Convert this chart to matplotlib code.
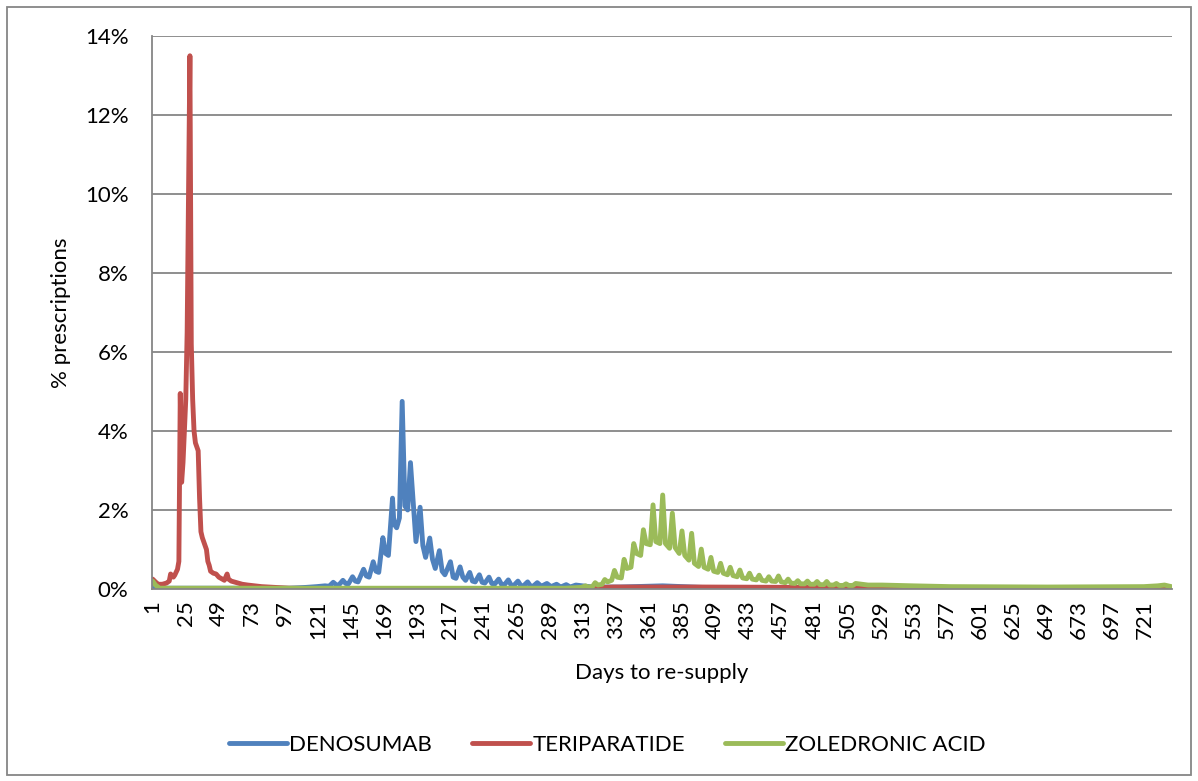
import matplotlib.pyplot as plt
from matplotlib.patches import Rectangle

plt.rcParams['font.family'] = ['Lato', 'DejaVu Sans']

# Days to re-supply (category axis) and tick labels
n_days = 740
tick_days = list(range(1, 722, 24))

# (day, % prescriptions)
teriparatide = [
    (1, 0.25), (3, 0.18), (5, 0.12), (8, 0.12), (11, 0.15), (13, 0.2), (14, 0.38),
    (16, 0.3), (17, 0.35), (19, 0.5), (20, 0.7), (21, 4.95), (22, 2.7), (23, 3.2),
    (24, 4.0), (25, 4.8), (26, 6.5), (27, 10.0), (28, 13.5), (29, 6.2), (30, 4.8),
    (31, 4.0), (32, 3.7), (33, 3.6), (34, 3.5), (35, 2.3), (36, 1.45), (37, 1.3),
    (38, 1.2), (39, 1.1), (40, 1.0), (41, 0.7), (42, 0.6), (43, 0.45), (45, 0.4),
    (47, 0.38), (49, 0.3), (51, 0.26), (53, 0.22), (55, 0.38), (56, 0.25), (58, 0.2),
    (62, 0.16), (66, 0.12), (70, 0.1), (75, 0.08), (80, 0.06), (90, 0.04), (100, 0.02),
    (120, 0.01), (300, 0.01), (320, 0.03), (335, 0.05), (400, 0.05), (480, 0.04),
    (520, 0.03), (600, 0.02), (740, 0.02),
]

denosumab = [
    (1, 0.06), (4, 0.02), (100, 0.02), (112, 0.04), (120, 0.06), (126, 0.08), (129, 0.07),
    (132, 0.17), (134, 0.11), (136, 0.1), (139, 0.22), (141, 0.14), (143, 0.13),
    (146, 0.31), (148, 0.2), (150, 0.18), (154, 0.5), (156, 0.33), (158, 0.3),
    (161, 0.69), (163, 0.45), (165, 0.42), (168, 1.3), (170, 0.9), (172, 0.85),
    (175, 2.3), (176, 1.65), (178, 1.55), (180, 1.8), (182, 4.75), (184, 2.1),
    (186, 2.0), (188, 3.2), (190, 2.2), (192, 1.2), (195, 2.07), (197, 1.1), (199, 0.8),
    (202, 1.29), (204, 0.75), (206, 0.52), (209, 0.97), (211, 0.45), (213, 0.36),
    (217, 0.69), (219, 0.3), (221, 0.27), (224, 0.56), (226, 0.3), (228, 0.22),
    (231, 0.42), (233, 0.2), (235, 0.18), (238, 0.36), (240, 0.17), (242, 0.15),
    (245, 0.3), (247, 0.14), (249, 0.12), (252, 0.25), (254, 0.12), (256, 0.1),
    (259, 0.23), (261, 0.1), (263, 0.09), (266, 0.2), (268, 0.09), (270, 0.08),
    (273, 0.18), (275, 0.08), (277, 0.07), (280, 0.16), (283, 0.07), (287, 0.14),
    (290, 0.06), (294, 0.12), (297, 0.05), (301, 0.11), (304, 0.05), (308, 0.1),
    (320, 0.05), (340, 0.05), (371, 0.08), (400, 0.04), (450, 0.03), (740, 0.02),
]

zoledronic_acid = [
    (1, 0.2), (3, 0.1), (6, 0.02), (300, 0.02), (312, 0.04), (315, 0.08), (317, 0.05),
    (320, 0.06), (322, 0.16), (324, 0.1), (327, 0.12), (329, 0.24), (331, 0.18),
    (334, 0.22), (336, 0.47), (338, 0.3), (341, 0.28), (343, 0.75), (345, 0.52),
    (348, 0.55), (350, 1.15), (352, 0.9), (355, 0.85), (357, 1.5), (359, 1.15),
    (362, 1.12), (364, 2.13), (366, 1.2), (369, 1.15), (371, 2.38), (373, 1.15),
    (376, 1.03), (378, 1.92), (380, 1.05), (383, 0.9), (385, 1.47), (387, 0.85),
    (390, 0.73), (392, 1.41), (394, 0.65), (397, 0.57), (399, 1.01), (401, 0.55),
    (404, 0.5), (406, 0.8), (408, 0.45), (411, 0.42), (413, 0.65), (415, 0.4),
    (418, 0.36), (420, 0.55), (422, 0.34), (425, 0.31), (427, 0.48), (429, 0.28),
    (432, 0.26), (434, 0.4), (436, 0.25), (439, 0.23), (441, 0.35), (443, 0.22),
    (446, 0.2), (448, 0.31), (450, 0.2), (453, 0.19), (455, 0.33), (457, 0.18),
    (460, 0.16), (462, 0.25), (464, 0.15), (467, 0.14), (469, 0.21), (471, 0.13),
    (474, 0.13), (476, 0.2), (478, 0.12), (481, 0.12), (483, 0.19), (485, 0.11),
    (488, 0.11), (490, 0.19), (492, 0.1), (495, 0.1), (497, 0.14), (499, 0.09),
    (502, 0.09), (504, 0.13), (506, 0.09), (509, 0.09), (511, 0.14), (520, 0.1),
    (530, 0.1), (553, 0.08), (580, 0.06), (650, 0.05), (720, 0.06), (730, 0.08),
    (735, 0.1), (740, 0.06),
]

series = [
    ('DENOSUMAB', denosumab, '#4F81BD'),
    ('TERIPARATIDE', teriparatide, '#C0504D'),
    ('ZOLEDRONIC ACID', zoledronic_acid, '#9BBB59'),
]

fig = plt.figure(figsize=(11.98, 7.81), dpi=100)
# outer chart border
fig.patches.append(Rectangle((7 / 1198, 6 / 781), 1184 / 1198, 768 / 781,
                             transform=fig.transFigure, fill=False,
                             edgecolor='#868686', lw=1.3))

ax = fig.add_axes([152 / 1198, 1 - 589 / 781, 1020 / 1198, 553 / 781])

for name, pts, color in series:
    days = [p[0] for p in pts]
    vals = [p[1] for p in pts]
    ax.plot(days, vals, color=color, lw=3.5, label=name,
            solid_joinstyle='round', solid_capstyle='round')

ax.set_xlim(0.5, n_days + 0.5)
ax.set_ylim(0, 14)
ax.set_yticks(range(0, 15, 2))
ax.set_yticklabels([f'{v}%' for v in range(0, 15, 2)], fontsize=16)
ax.set_xticks(tick_days)
ax.set_xticklabels([str(d) for d in tick_days], rotation=90, fontsize=16)
ax.tick_params(axis='y', length=0, pad=17)
ax.tick_params(axis='x', length=0, pad=8)

ax.grid(axis='y', color='#868686', lw=1.3)
ax.set_axisbelow(True)
for s in ['top', 'right']:
    ax.spines[s].set_visible(False)
ax.spines['left'].set_color('#868686')
ax.spines['left'].set_linewidth(1.3)
ax.spines['bottom'].set_color('#868686')
ax.spines['bottom'].set_linewidth(1.3)

ax.set_ylabel('% prescriptions', fontsize=16, labelpad=10)
ax.set_xlabel('Days to re-supply', fontsize=16, labelpad=17)

fig.legend(loc='center', bbox_to_anchor=(0.507, 1 - 745 / 781), ncol=3,
           frameon=False, fontsize=16, handlelength=2.6, handletextpad=0.1,
           columnspacing=1.8)

fig.savefig('out.png', dpi=100)
